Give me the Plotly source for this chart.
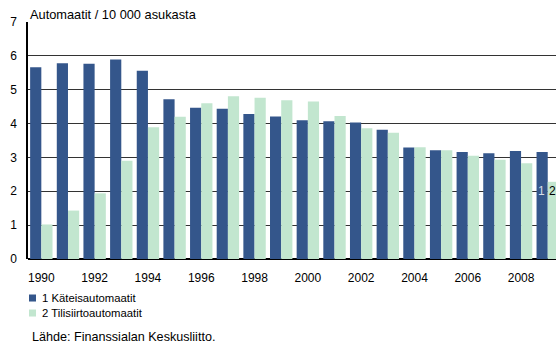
import plotly.graph_objects as go

years = list(range(1990, 2010))
kateis = [5.66, 5.78, 5.77, 5.89, 5.56, 4.72, 4.47, 4.44, 4.28, 4.21,
          4.10, 4.07, 4.03, 3.82, 3.29, 3.21, 3.16, 3.12, 3.19, 3.16]
tilisiirto = [1.02, 1.43, 1.94, 2.90, 3.89, 4.20, 4.60, 4.81, 4.76, 4.69,
              4.65, 4.22, 3.86, 3.73, 3.30, 3.21, 3.05, 2.93, 2.83, 2.28]
names = ["1 Käteisautomaatit", "2 Tilisiirtoautomaatit"]
colors = ["#34568b", "#c2e6cf"]

FONT = "Liberation Sans, Arial, sans-serif"

fig = go.Figure()
for vals, name, col in zip([kateis, tilisiirto], names, colors):
    fig.add_trace(go.Bar(x=years, y=vals, name=name, showlegend=False,
                         hoverinfo="skip",
                         marker=dict(color=col, line=dict(width=0))))

# series labels by the last bars
fig.add_annotation(x=years[-1], y=2, xshift=-6, text="1", showarrow=False,
                   font=dict(color="#d8dde8", size=12, family=FONT))
fig.add_annotation(x=years[-1], y=2, xshift=5, text="2", showarrow=False,
                   font=dict(color="#000000", size=12, family=FONT))

fig.add_annotation(xref="paper", yref="paper", x=0.0, y=1.03,
                   xanchor="left", yanchor="middle", showarrow=False,
                   text="Automaatit / 10 000 asukasta",
                   font=dict(size=12.8, family=FONT, color="#000"))
fig.add_annotation(xref="paper", yref="paper", x=0.003, y=-0.329,
                   xanchor="left", yanchor="middle", showarrow=False,
                   text="Lähde: Finanssialan Keskusliitto.",
                   font=dict(size=12.6, family=FONT, color="#000"))

# legend drawn below the plot
for i, (name, col) in enumerate(zip(names, colors)):
    yc = -0.1646 - i * 0.0633
    fig.add_shape(type="rect", xref="paper", yref="paper",
                  x0=0.0019, x1=0.0152, y0=yc - 0.0148, y1=yc + 0.0148,
                  fillcolor=col, line=dict(width=0))
    fig.add_annotation(xref="paper", yref="paper", x=0.0225, y=yc,
                       xanchor="left", yanchor="middle", showarrow=False,
                       text=name, font=dict(size=11.3, family=FONT, color="#000"))

fig.update_layout(
    width=556, height=345,
    margin=dict(l=28, r=0, t=22, b=86),
    paper_bgcolor="white", plot_bgcolor="white",
    barmode="group", bargap=0.16, bargroupgap=0,
    font=dict(family=FONT, size=12, color="#000"),
    showlegend=False, hovermode=False,
)
# the original is cropped on the right, through the last green bar
fig.update_xaxes(range=[1989.5, 2009.31], tickvals=years[::2], ticks="",
                 showgrid=False, showline=False, zeroline=False,
                 automargin=False, ticklabelstandoff=10,
                 tickfont=dict(size=12, family=FONT))
fig.update_yaxes(range=[0, 7], dtick=1, showgrid=True, gridcolor="#333333",
                 gridwidth=1, showline=True, linecolor="#000", linewidth=1.5,
                 zeroline=True, zerolinecolor="#000", zerolinewidth=1.5,
                 ticks="", automargin=False, ticklabelstandoff=7,
                 tickfont=dict(size=12, family=FONT))

# drop the browser's default page margin so the figure sits at 0,0
fig.write_html("out.html", config={"displayModeBar": False},
               post_script="document.body.style.margin='0';")
